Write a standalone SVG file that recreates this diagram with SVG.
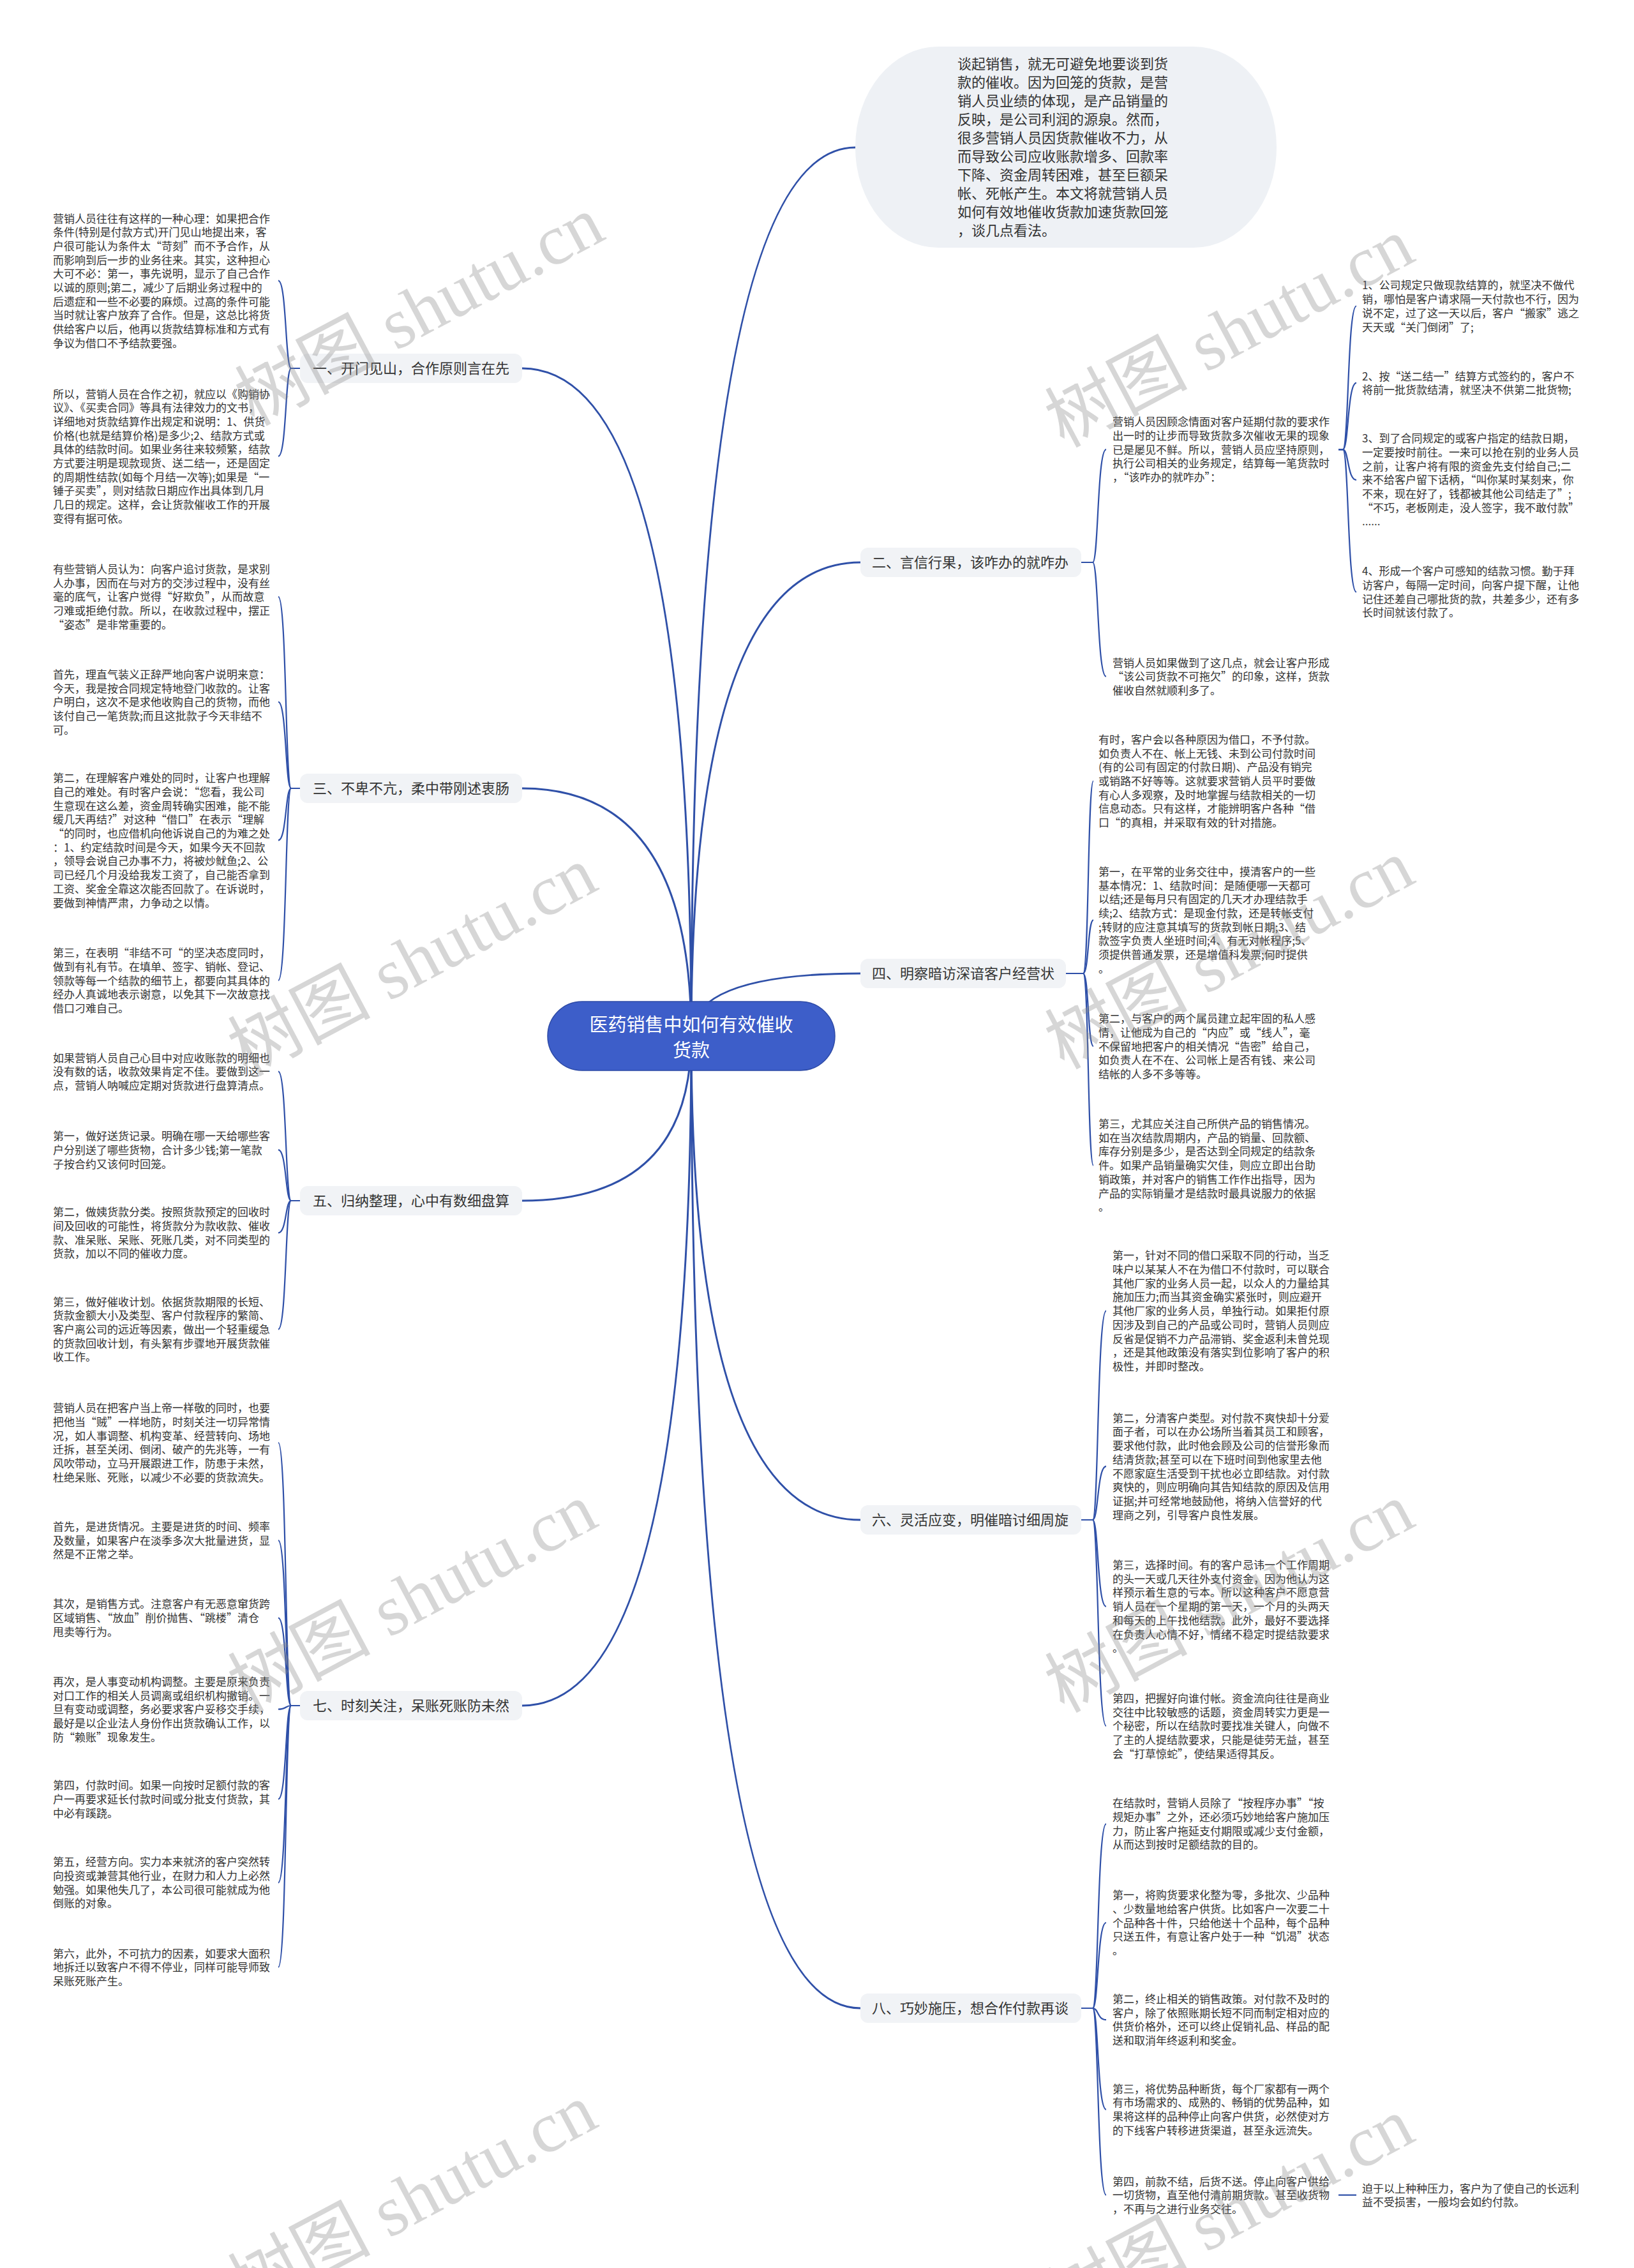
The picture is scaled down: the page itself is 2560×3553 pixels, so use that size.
<svg xmlns="http://www.w3.org/2000/svg" width="2560" height="3553" viewBox="0 0 2560 3553">
<style>
text{font-family:"Noto Sans CJK SC","Noto Sans",sans-serif}
.leaf{font-size:17px;fill:#333}
.intro{font-size:22px;fill:#333}
.br{font-size:22px;fill:#333}
.ctr{font-size:29px;fill:#fff}
.brbox{fill:#f1f3f6}
.c{fill:none;stroke:#2f50a8;stroke-width:3}
.l{fill:none;stroke:#2f50a8;stroke-width:2.2}
.wm{font-family:"Liberation Serif","Noto Sans CJK SC",serif;font-size:112px;fill:#8c8c8c;opacity:0.35}
</style>
<rect width="2560" height="3553" fill="#fff"/>
<g id="connectors">
<path class="c" d="M1083 1623 Q1083 231 1340 231"/>
<path class="c" d="M1083 1623 Q1083 577 818 577"/>
<path class="c" d="M1083 1623 Q1083 1235 818 1235"/>
<path class="c" d="M1083 1623 Q1083 1881 818 1881"/>
<path class="c" d="M1083 1623 Q1083 2672 818 2672"/>
<path class="c" d="M1083 1623 Q1083 881 1348 881"/>
<path class="c" d="M1083 1623 Q1083 1525 1348 1525"/>
<path class="c" d="M1083 1623 Q1083 2381 1348 2381"/>
<path class="c" d="M1083 1623 Q1083 3146 1348 3146"/>
<!-- branch 1 -->
<path class="l" d="M470 577 H456 C447 577 449 439.7 436 439.7"/>
<path class="l" d="M470 577 H456 C447 577 449 714.7 436 714.7"/>
<!-- branch 3 -->
<path class="l" d="M470 1235 H456 C447 1235 449 934.9 436 934.9"/>
<path class="l" d="M470 1235 H456 C447 1235 449 1099.7 436 1099.7"/>
<path class="l" d="M470 1235 H456 C447 1235 449 1316.4 436 1316.4"/>
<path class="l" d="M470 1235 H456 C447 1235 449 1536 436 1536"/>
<!-- branch 5 -->
<path class="l" d="M470 1881 H456 C447 1881 449 1678.7 436 1678.7"/>
<path class="l" d="M470 1881 H456 C447 1881 449 1801.3 436 1801.3"/>
<path class="l" d="M470 1881 H456 C447 1881 449 1931.4 436 1931.4"/>
<path class="l" d="M470 1881 H456 C447 1881 449 2082.4 436 2082.4"/>
<!-- branch 7 -->
<path class="l" d="M470 2672 H456 C447 2672 449 2260 436 2260"/>
<path class="l" d="M470 2672 H456 C447 2672 449 2413.1 436 2413.1"/>
<path class="l" d="M470 2672 H456 C447 2672 449 2534.6 436 2534.6"/>
<path class="l" d="M470 2672 H456 C447 2672 449 2677.7 436 2677.7"/>
<path class="l" d="M470 2672 H456 C447 2672 449 2818.4 436 2818.4"/>
<path class="l" d="M470 2672 H456 C447 2672 449 2949.3 436 2949.3"/>
<path class="l" d="M470 2672 H456 C447 2672 449 3081.7 436 3081.7"/>
<!-- branch 2 -->
<path class="l" d="M1694 881 H1712 C1721 881 1719 704.1 1733 704.1"/>
<path class="l" d="M1694 881 H1712 C1721 881 1719 1059.7 1733 1059.7"/>
<path class="l" d="M2097 704.1 H2104 C2113 704.1 2111 479.5 2125 479.5"/>
<path class="l" d="M2097 704.1 H2104 C2113 704.1 2111 599.9 2125 599.9"/>
<path class="l" d="M2097 704.1 H2104 C2113 704.1 2111 751.8 2125 751.8"/>
<path class="l" d="M2097 704.1 H2104 C2113 704.1 2111 927.4 2125 927.4"/>
<!-- branch 4 -->
<path class="l" d="M1670 1525 H1697 C1706 1525 1704 1223.5 1713 1223.5"/>
<path class="l" d="M1670 1525 H1697 C1706 1525 1704 1441.4 1713 1441.4"/>
<path class="l" d="M1670 1525 H1697 C1706 1525 1704 1639 1713 1639"/>
<path class="l" d="M1670 1525 H1697 C1706 1525 1704 1825.6 1713 1825.6"/>
<!-- branch 6 -->
<path class="l" d="M1694 2381 H1712 C1721 2381 1719 2053.6 1733 2053.6"/>
<path class="l" d="M1694 2381 H1712 C1721 2381 1719 2297.2 1733 2297.2"/>
<path class="l" d="M1694 2381 H1712 C1721 2381 1719 2516.6 1733 2516.6"/>
<path class="l" d="M1694 2381 H1712 C1721 2381 1719 2703.8 1733 2703.8"/>
<!-- branch 8 -->
<path class="l" d="M1694 3146 H1712 C1721 3146 1719 2857.4 1733 2857.4"/>
<path class="l" d="M1694 3146 H1712 C1721 3146 1719 3012 1733 3012"/>
<path class="l" d="M1694 3146 H1712 C1721 3146 1719 3164.1 1733 3164.1"/>
<path class="l" d="M1694 3146 H1712 C1721 3146 1719 3304.6 1733 3304.6"/>
<path class="l" d="M1694 3146 H1712 C1721 3146 1719 3438.7 1733 3438.7"/>
<path class="l" d="M2097 3438.7 H2125"/>
</g>

<g id="center">
<rect x="858" y="1569" width="450" height="108" rx="54" fill="#3d5ec9" stroke="#2d4aa6" stroke-width="1.5"/>
<text class="ctr" text-anchor="middle"><tspan x="1083" y="1616">医药销售中如何有效催收</tspan><tspan x="1083" y="1656">货款</tspan></text>
</g>

<g id="intro">
<rect x="1340" y="73" width="660" height="315" rx="130" ry="157" fill="#eef1f5"/>
<text class="intro" x="1500" y="108.4"><tspan x="1500" dy="0">谈起销售，就无可避免地要谈到货</tspan><tspan x="1500" dy="29">款的催收。因为回笼的货款，是营</tspan><tspan x="1500" dy="29">销人员业绩的体现，是产品销量的</tspan><tspan x="1500" dy="29">反映，是公司利润的源泉。然而，</tspan><tspan x="1500" dy="29">很多营销人员因货款催收不力，从</tspan><tspan x="1500" dy="29">而导致公司应收账款增多、回款率</tspan><tspan x="1500" dy="29">下降、资金周转困难，甚至巨额呆</tspan><tspan x="1500" dy="29">帐、死帐产生。本文将就营销人员</tspan><tspan x="1500" dy="29">如何有效地催收货款加速货款回笼</tspan><tspan x="1500" dy="29">，谈几点看法。</tspan></text>
</g>

<g id="b1">
<rect class="brbox" x="470" y="554" width="348" height="46" rx="12"/>
<text class="br" x="490" y="585">一、开门见山，合作原则言在先</text>
</g>
<g id="b1-1"><text class="leaf" x="83" y="348.5"><tspan x="83" dy="0">营销人员往往有这样的一种心理：如果把合作</tspan><tspan x="83" dy="21.7">条件(特别是付款方式)开门见山地提出来，客</tspan><tspan x="83" dy="21.7">户很可能认为条件太“苛刻”而不予合作，从</tspan><tspan x="83" dy="21.7">而影响到后一步的业务往来。其实，这种担心</tspan><tspan x="83" dy="21.7">大可不必：第一，事先说明，显示了自己合作</tspan><tspan x="83" dy="21.7">以诚的原则;第二，减少了后期业务过程中的</tspan><tspan x="83" dy="21.7">后遗症和一些不必要的麻烦。过高的条件可能</tspan><tspan x="83" dy="21.7">当时就让客户放弃了合作。但是，这总比将货</tspan><tspan x="83" dy="21.7">供给客户以后，他再以货款结算标准和方式有</tspan><tspan x="83" dy="21.7">争议为借口不予结款要强。</tspan></text></g>
<g id="b1-2"><text class="leaf" x="83" y="623.5"><tspan x="83" dy="0">所以，营销人员在合作之初，就应以《购销协</tspan><tspan x="83" dy="21.7">议》、《买卖合同》等具有法律效力的文书，</tspan><tspan x="83" dy="21.7">详细地对货款结算作出规定和说明：1、供货</tspan><tspan x="83" dy="21.7">价格(也就是结算价格)是多少;2、结款方式或</tspan><tspan x="83" dy="21.7">具体的结款时间。如果业务往来较频繁，结款</tspan><tspan x="83" dy="21.7">方式要注明是现款现货、送二结一，还是固定</tspan><tspan x="83" dy="21.7">的周期性结款(如每个月结一次等);如果是“一</tspan><tspan x="83" dy="21.7">锤子买卖”，则对结款日期应作出具体到几月</tspan><tspan x="83" dy="21.7">几日的规定。这样，会让货款催收工作的开展</tspan><tspan x="83" dy="21.7">变得有据可依。</tspan></text></g>

<g id="b3">
<rect class="brbox" x="470" y="1212" width="348" height="46" rx="12"/>
<text class="br" x="490" y="1243">三、不卑不亢，柔中带刚述衷肠</text>
</g>
<g id="b3-1"><text class="leaf" x="83" y="898"><tspan x="83" dy="0">有些营销人员认为：向客户追讨货款，是求别</tspan><tspan x="83" dy="21.7">人办事，因而在与对方的交涉过程中，没有丝</tspan><tspan x="83" dy="21.7">毫的底气，让客户觉得“好欺负”，从而故意</tspan><tspan x="83" dy="21.7">刁难或拒绝付款。所以，在收款过程中，摆正</tspan><tspan x="83" dy="21.7">“姿态”是非常重要的。</tspan></text></g>
<g id="b3-2"><text class="leaf" x="83" y="1062.8"><tspan x="83" dy="0">首先，理直气装义正辞严地向客户说明来意：</tspan><tspan x="83" dy="21.7">今天，我是按合同规定特地登门收款的。让客</tspan><tspan x="83" dy="21.7">户明白，这次不是求他收购自己的货物，而他</tspan><tspan x="83" dy="21.7">该付自己一笔货款;而且这批款子今天非结不</tspan><tspan x="83" dy="21.7">可。</tspan></text></g>
<g id="b3-3"><text class="leaf" x="83" y="1225.2"><tspan x="83" dy="0">第二，在理解客户难处的同时，让客户也理解</tspan><tspan x="83" dy="21.7">自己的难处。有时客户会说：“您看，我公司</tspan><tspan x="83" dy="21.7">生意现在这么差，资金周转确实困难，能不能</tspan><tspan x="83" dy="21.7">缓几天再结?”对这种“借口”在表示“理解</tspan><tspan x="83" dy="21.7">“的同时，也应借机向他诉说自己的为难之处</tspan><tspan x="83" dy="21.7">：1、约定结款时间是今天，如果今天不回款</tspan><tspan x="83" dy="21.7">，领导会说自己办事不力，将被炒鱿鱼;2、公</tspan><tspan x="83" dy="21.7">司已经几个月没给我发工资了，自己能否拿到</tspan><tspan x="83" dy="21.7">工资、奖金全靠这次能否回款了。在诉说时，</tspan><tspan x="83" dy="21.7">要做到神情严肃，力争动之以情。</tspan></text></g>
<g id="b3-4"><text class="leaf" x="83" y="1499.1"><tspan x="83" dy="0">第三，在表明“非结不可“的坚决态度同时，</tspan><tspan x="83" dy="21.7">做到有礼有节。在填单、签字、销帐、登记、</tspan><tspan x="83" dy="21.7">领款等每一个结款的细节上，都要向其具体的</tspan><tspan x="83" dy="21.7">经办人真诚地表示谢意，以免其下一次故意找</tspan><tspan x="83" dy="21.7">借口刁难自己。</tspan></text></g>

<g id="b5">
<rect class="brbox" x="470" y="1858" width="348" height="46" rx="12"/>
<text class="br" x="490" y="1889">五、归纳整理，心中有数细盘算</text>
</g>
<g id="b5-1"><text class="leaf" x="83" y="1663.5"><tspan x="83" dy="0">如果营销人员自己心目中对应收账款的明细也</tspan><tspan x="83" dy="21.7">没有数的话，收款效果肯定不佳。要做到这一</tspan><tspan x="83" dy="21.7">点，营销人呐喊应定期对货款进行盘算清点。</tspan></text></g>
<g id="b5-2"><text class="leaf" x="83" y="1786.1"><tspan x="83" dy="0">第一，做好送货记录。明确在哪一天给哪些客</tspan><tspan x="83" dy="21.7">户分别送了哪些货物，合计多少钱;第一笔款</tspan><tspan x="83" dy="21.7">子按合约又该何时回笼。</tspan></text></g>
<g id="b5-3"><text class="leaf" x="83" y="1905.3"><tspan x="83" dy="0">第二，做姨货款分类。按照货款预定的回收时</tspan><tspan x="83" dy="21.7">间及回收的可能性，将货款分为款收款、催收</tspan><tspan x="83" dy="21.7">款、准呆账、呆账、死账几类，对不同类型的</tspan><tspan x="83" dy="21.7">货款，加以不同的催收力度。</tspan></text></g>
<g id="b5-4"><text class="leaf" x="83" y="2045.5"><tspan x="83" dy="0">第三，做好催收计划。依据货款期限的长短、</tspan><tspan x="83" dy="21.7">货款金额大小及类型、客户付款程序的繁简、</tspan><tspan x="83" dy="21.7">客户离公司的远近等因素，做出一个轻重缓急</tspan><tspan x="83" dy="21.7">的货款回收计划，有头絮有步骤地开展货款催</tspan><tspan x="83" dy="21.7">收工作。</tspan></text></g>

<g id="b7">
<rect class="brbox" x="470" y="2649" width="348" height="46" rx="12"/>
<text class="br" x="490" y="2680">七、时刻关注，呆账死账防未然</text>
</g>
<g id="b7-1"><text class="leaf" x="83" y="2212.2"><tspan x="83" dy="0">营销人员在把客户当上帝一样敬的同时，也要</tspan><tspan x="83" dy="21.7">把他当“贼”一样地防，时刻关注一切异常情</tspan><tspan x="83" dy="21.7">况，如人事调整、机构变革、经营转向、场地</tspan><tspan x="83" dy="21.7">迁拆，甚至关闭、倒闭、破产的先兆等，一有</tspan><tspan x="83" dy="21.7">风吹带动，立马开展跟进工作，防患于未然，</tspan><tspan x="83" dy="21.7">杜绝呆账、死账，以减少不必要的货款流失。</tspan></text></g>
<g id="b7-2"><text class="leaf" x="83" y="2397.9"><tspan x="83" dy="0">首先，是进货情况。主要是进货的时间、频率</tspan><tspan x="83" dy="21.7">及数量，如果客户在淡季多次大批量进货，显</tspan><tspan x="83" dy="21.7">然是不正常之举。</tspan></text></g>
<g id="b7-3"><text class="leaf" x="83" y="2519.4"><tspan x="83" dy="0">其次，是销售方式。注意客户有无恶意窜货跨</tspan><tspan x="83" dy="21.7">区域销售、“放血”削价抛售、“跳楼”清仓</tspan><tspan x="83" dy="21.7">甩卖等行为。</tspan></text></g>
<g id="b7-4"><text class="leaf" x="83" y="2640.8"><tspan x="83" dy="0">再次，是人事变动机构调整。主要是原来负责</tspan><tspan x="83" dy="21.7">对口工作的相关人员调离或组织机构撤销。一</tspan><tspan x="83" dy="21.7">旦有变动或调整，务必要求客户妥移交手续，</tspan><tspan x="83" dy="21.7">最好是以企业法人身份作出货款确认工作，以</tspan><tspan x="83" dy="21.7">防“赖账”现象发生。</tspan></text></g>
<g id="b7-5"><text class="leaf" x="83" y="2803.2"><tspan x="83" dy="0">第四，付款时间。如果一向按时足额付款的客</tspan><tspan x="83" dy="21.7">户一再要求延长付款时间或分批支付货款，其</tspan><tspan x="83" dy="21.7">中必有蹊跷。</tspan></text></g>
<g id="b7-6"><text class="leaf" x="83" y="2923.2"><tspan x="83" dy="0">第五，经营方向。实力本来就济的客户突然转</tspan><tspan x="83" dy="21.7">向投资或兼营其他行业，在财力和人力上必然</tspan><tspan x="83" dy="21.7">勉强。如果他失几了，本公司很可能就成为他</tspan><tspan x="83" dy="21.7">倒账的对象。</tspan></text></g>
<g id="b7-7"><text class="leaf" x="83" y="3066.5"><tspan x="83" dy="0">第六，此外，不可抗力的因素，如要求大面积</tspan><tspan x="83" dy="21.7">地拆迁以致客户不得不停业，同样可能导师致</tspan><tspan x="83" dy="21.7">呆账死账产生。</tspan></text></g>

<g id="b2">
<rect class="brbox" x="1348" y="858" width="346" height="46" rx="12"/>
<text class="br" x="1366" y="889">二、言信行果，该咋办的就咋办</text>
</g>
<g id="b2-1"><text class="leaf" x="1743" y="667.2"><tspan x="1743" dy="0">营销人员因顾念情面对客户延期付款的要求作</tspan><tspan x="1743" dy="21.7">出一时的让步而导致货款多次催收无果的现象</tspan><tspan x="1743" dy="21.7">已是屡见不鲜。所以，营销人员应坚持原则，</tspan><tspan x="1743" dy="21.7">执行公司相关的业务规定，结算每一笔货款时</tspan><tspan x="1743" dy="21.7">，“该咋办的就咋办”：</tspan></text></g>
<g id="b2-2"><text class="leaf" x="1743" y="1044.5"><tspan x="1743" dy="0">营销人员如果做到了这几点，就会让客户形成</tspan><tspan x="1743" dy="21.7">“该公司货款不可拖欠”的印象，这样，货款</tspan><tspan x="1743" dy="21.7">催收自然就顺利多了。</tspan></text></g>
<g id="b2-1-1"><text class="leaf" x="2134" y="453.4"><tspan x="2134" dy="0">1、公司规定只做现款结算的，就坚决不做代</tspan><tspan x="2134" dy="21.7">销，哪怕是客户请求隔一天付款也不行，因为</tspan><tspan x="2134" dy="21.7">说不定，过了这一天以后，客户“搬家”逃之</tspan><tspan x="2134" dy="21.7">天天或“关门倒闭”了;</tspan></text></g>
<g id="b2-1-2"><text class="leaf" x="2134" y="595.5"><tspan x="2134" dy="0">2、按“送二结一”结算方式签约的，客户不</tspan><tspan x="2134" dy="21.7">将前一批货款结清，就坚决不供第二批货物;</tspan></text></g>
<g id="b2-1-3"><text class="leaf" x="2134" y="693.2"><tspan x="2134" dy="0">3、到了合同规定的或客户指定的结款日期，</tspan><tspan x="2134" dy="21.7">一定要按时前往。一来可以抢在别的业务人员</tspan><tspan x="2134" dy="21.7">之前，让客户将有限的资金先支付给自己;二</tspan><tspan x="2134" dy="21.7">来不给客户留下话柄，“叫你某时某刻来，你</tspan><tspan x="2134" dy="21.7">不来，现在好了，钱都被其他公司结走了”;</tspan><tspan x="2134" dy="21.7">“不巧，老板刚走，没人签字，我不敢付款”</tspan><tspan x="2134" dy="21.7">......</tspan></text></g>
<g id="b2-1-4"><text class="leaf" x="2134" y="901.3"><tspan x="2134" dy="0">4、形成一个客户可感知的结款习惯。勤于拜</tspan><tspan x="2134" dy="21.7">访客户，每隔一定时间，向客户提下醒，让他</tspan><tspan x="2134" dy="21.7">记住还差自己哪批货的款，共差多少，还有多</tspan><tspan x="2134" dy="21.7">长时间就该付款了。</tspan></text></g>

<g id="b4">
<rect class="brbox" x="1348" y="1502" width="322" height="46" rx="12"/>
<text class="br" x="1366" y="1533">四、明察暗访深谙客户经营状</text>
</g>
<g id="b4-1"><text class="leaf" x="1721" y="1164.9"><tspan x="1721" dy="0">有时，客户会以各种原因为借口，不予付款。</tspan><tspan x="1721" dy="21.7">如负责人不在、帐上无钱、未到公司付款时间</tspan><tspan x="1721" dy="21.7">(有的公司有固定的付款日期)、产品没有销完</tspan><tspan x="1721" dy="21.7">或销路不好等等。这就要求营销人员平时要做</tspan><tspan x="1721" dy="21.7">有心人多观察，及时地掌握与结款相关的一切</tspan><tspan x="1721" dy="21.7">信息动态。只有这样，才能辨明客户各种“借</tspan><tspan x="1721" dy="21.7">口“的真相，并采取有效的针对措施。</tspan></text></g>
<g id="b4-2"><text class="leaf" x="1721" y="1371.9"><tspan x="1721" dy="0">第一，在平常的业务交往中，摸清客户的一些</tspan><tspan x="1721" dy="21.7">基本情况：1、结款时间：是随便哪一天都可</tspan><tspan x="1721" dy="21.7">以结;还是每月只有固定的几天才办理结款手</tspan><tspan x="1721" dy="21.7">续;2、结款方式：是现金付款，还是转帐支付</tspan><tspan x="1721" dy="21.7">;转财的应注意其填写的货款到帐日期;3、结</tspan><tspan x="1721" dy="21.7">款签字负责人坐班时间;4、有无对帐程序;5、</tspan><tspan x="1721" dy="21.7">须提供普通发票，还是增值科发票;何时提供</tspan><tspan x="1721" dy="21.7">。</tspan></text></g>
<g id="b4-3"><text class="leaf" x="1721" y="1602.1"><tspan x="1721" dy="0">第二，与客户的两个属员建立起牢固的私人感</tspan><tspan x="1721" dy="21.7">情，让他成为自己的“内应”或“线人”，毫</tspan><tspan x="1721" dy="21.7">不保留地把客户的相关情况“告密”给自己，</tspan><tspan x="1721" dy="21.7">如负责人在不在、公司帐上是否有钱、来公司</tspan><tspan x="1721" dy="21.7">结帐的人多不多等等。</tspan></text></g>
<g id="b4-4"><text class="leaf" x="1721" y="1767"><tspan x="1721" dy="0">第三，尤其应关注自己所供产品的销售情况。</tspan><tspan x="1721" dy="21.7">如在当次结款周期内，产品的销量、回款额、</tspan><tspan x="1721" dy="21.7">库存分别是多少，是否达到全同规定的结款条</tspan><tspan x="1721" dy="21.7">件。如果产品销量确实欠佳，则应立即出台助</tspan><tspan x="1721" dy="21.7">销政策，并对客户的销售工作作出指导，因为</tspan><tspan x="1721" dy="21.7">产品的实际销量才是结款时最具说服力的依据</tspan><tspan x="1721" dy="21.7">。</tspan></text></g>

<g id="b6">
<rect class="brbox" x="1348" y="2358" width="346" height="46" rx="12"/>
<text class="br" x="1366" y="2389">六、灵活应变，明催暗讨细周旋</text>
</g>
<g id="b6-1"><text class="leaf" x="1743" y="1973.3"><tspan x="1743" dy="0">第一，针对不同的借口采取不同的行动，当乏</tspan><tspan x="1743" dy="21.7">味户以某某人不在为借口不付款时，可以联合</tspan><tspan x="1743" dy="21.7">其他厂家的业务人员一起，以众人的力量给其</tspan><tspan x="1743" dy="21.7">施加压力;而当其资金确实紧张时，则应避开</tspan><tspan x="1743" dy="21.7">其他厂家的业务人员，单独行动。如果拒付原</tspan><tspan x="1743" dy="21.7">因涉及到自己的产品或公司时，营销人员则应</tspan><tspan x="1743" dy="21.7">反省是促销不力产品滞销、奖金返利未曾兑现</tspan><tspan x="1743" dy="21.7">，还是其他政策没有落实到位影响了客户的积</tspan><tspan x="1743" dy="21.7">极性，并即时整改。</tspan></text></g>
<g id="b6-2"><text class="leaf" x="1743" y="2227.7"><tspan x="1743" dy="0">第二，分清客户类型。对付款不爽快却十分爱</tspan><tspan x="1743" dy="21.7">面子者，可以在办公场所当着其员工和顾客，</tspan><tspan x="1743" dy="21.7">要求他付款，此时他会顾及公司的信誉形象而</tspan><tspan x="1743" dy="21.7">结清货款;甚至可以在下班时间到他家里去他</tspan><tspan x="1743" dy="21.7">不愿家庭生活受到干扰也必立即结款。对付款</tspan><tspan x="1743" dy="21.7">爽快的，则应明确向其告知结款的原因及信用</tspan><tspan x="1743" dy="21.7">证据;并可经常地鼓励他，将纳入信誉好的代</tspan><tspan x="1743" dy="21.7">理商之列，引导客户良性发展。</tspan></text></g>
<g id="b6-3"><text class="leaf" x="1743" y="2458"><tspan x="1743" dy="0">第三，选择时间。有的客户忌讳一个工作周期</tspan><tspan x="1743" dy="21.7">的头一天或几天往外支付资金，因为他认为这</tspan><tspan x="1743" dy="21.7">样预示着生意的亏本。所以这种客户不愿意营</tspan><tspan x="1743" dy="21.7">销人员在一个星期的第一天，一个月的头两天</tspan><tspan x="1743" dy="21.7">和每天的上午找他结款。此外，最好不要选择</tspan><tspan x="1743" dy="21.7">在负责人心情不好，情绪不稳定时提结款要求</tspan><tspan x="1743" dy="21.7">。</tspan></text></g>
<g id="b6-4"><text class="leaf" x="1743" y="2666.9"><tspan x="1743" dy="0">第四，把握好向谁付帐。资金流向往往是商业</tspan><tspan x="1743" dy="21.7">交往中比较敏感的话题，资金周转实力更是一</tspan><tspan x="1743" dy="21.7">个秘密，所以在结款时要找准关键人，向做不</tspan><tspan x="1743" dy="21.7">了主的人提结款要求，只能是徒劳无益，甚至</tspan><tspan x="1743" dy="21.7">会“打草惊蛇”，使结果适得其反。</tspan></text></g>

<g id="b8">
<rect class="brbox" x="1348" y="3123" width="346" height="46" rx="12"/>
<text class="br" x="1366" y="3154">八、巧妙施压，想合作付款再谈</text>
</g>
<g id="b8-1"><text class="leaf" x="1743" y="2831.3"><tspan x="1743" dy="0">在结款时，营销人员除了“按程序办事”“按</tspan><tspan x="1743" dy="21.7">规矩办事”之外，还必须巧妙地给客户施加压</tspan><tspan x="1743" dy="21.7">力，防止客户拖延支付期限或减少支付金额，</tspan><tspan x="1743" dy="21.7">从而达到按时足额结款的目的。</tspan></text></g>
<g id="b8-2"><text class="leaf" x="1743" y="2975.1"><tspan x="1743" dy="0">第一，将购货要求化整为零，多批次、少品种</tspan><tspan x="1743" dy="21.7">、少数量地给客户供货。比如客户一次要二十</tspan><tspan x="1743" dy="21.7">个品种各十件，只给他送十个品种，每个品种</tspan><tspan x="1743" dy="21.7">只送五件，有意让客户处于一种“饥渴”状态</tspan><tspan x="1743" dy="21.7">。</tspan></text></g>
<g id="b8-3"><text class="leaf" x="1743" y="3138"><tspan x="1743" dy="0">第二，终止相关的销售政策。对付款不及时的</tspan><tspan x="1743" dy="21.7">客户，除了依照账期长短不同而制定相对应的</tspan><tspan x="1743" dy="21.7">供货价格外，还可以终止促销礼品、样品的配</tspan><tspan x="1743" dy="21.7">送和取消年终返利和奖金。</tspan></text></g>
<g id="b8-4"><text class="leaf" x="1743" y="3278.5"><tspan x="1743" dy="0">第三，将优势品种断货，每个厂家都有一两个</tspan><tspan x="1743" dy="21.7">有市场需求的、成熟的、畅销的优势品种，如</tspan><tspan x="1743" dy="21.7">果将这样的品种停止向客户供货，必然使对方</tspan><tspan x="1743" dy="21.7">的下线客户转移进货渠道，甚至永远流失。</tspan></text></g>
<g id="b8-5"><text class="leaf" x="1743" y="3423.5"><tspan x="1743" dy="0">第四，前款不结，后货不送。停止向客户供给</tspan><tspan x="1743" dy="21.7">一切货物，直至他付清前期货款。甚至收货物</tspan><tspan x="1743" dy="21.7">，不再与之进行业务交往。</tspan></text></g>
<g id="b8-5-1"><text class="leaf" x="2134" y="3434.5"><tspan x="2134" dy="0">迫于以上种种压力，客户为了使自己的长远利</tspan><tspan x="2134" dy="21.7">益不受损害，一般均会如约付款。</tspan></text></g>

<g id="watermarks">
<text class="wm" text-anchor="middle" transform="translate(657 487) rotate(-28)" y="38">树图 shutu.cn</text>
<text class="wm" text-anchor="middle" transform="translate(1926 521) rotate(-28)" y="38">树图 shutu.cn</text>
<text class="wm" text-anchor="middle" transform="translate(646 1506) rotate(-28)" y="38">树图 shutu.cn</text>
<text class="wm" text-anchor="middle" transform="translate(1926 1495) rotate(-28)" y="38">树图 shutu.cn</text>
<text class="wm" text-anchor="middle" transform="translate(646 2503) rotate(-28)" y="38">树图 shutu.cn</text>
<text class="wm" text-anchor="middle" transform="translate(1926 2503) rotate(-28)" y="38">树图 shutu.cn</text>
<text class="wm" text-anchor="middle" transform="translate(646 3444) rotate(-28)" y="38">树图 shutu.cn</text>
<text class="wm" text-anchor="middle" transform="translate(1926 3466) rotate(-28)" y="38">树图 shutu.cn</text>
</g>
</svg>
